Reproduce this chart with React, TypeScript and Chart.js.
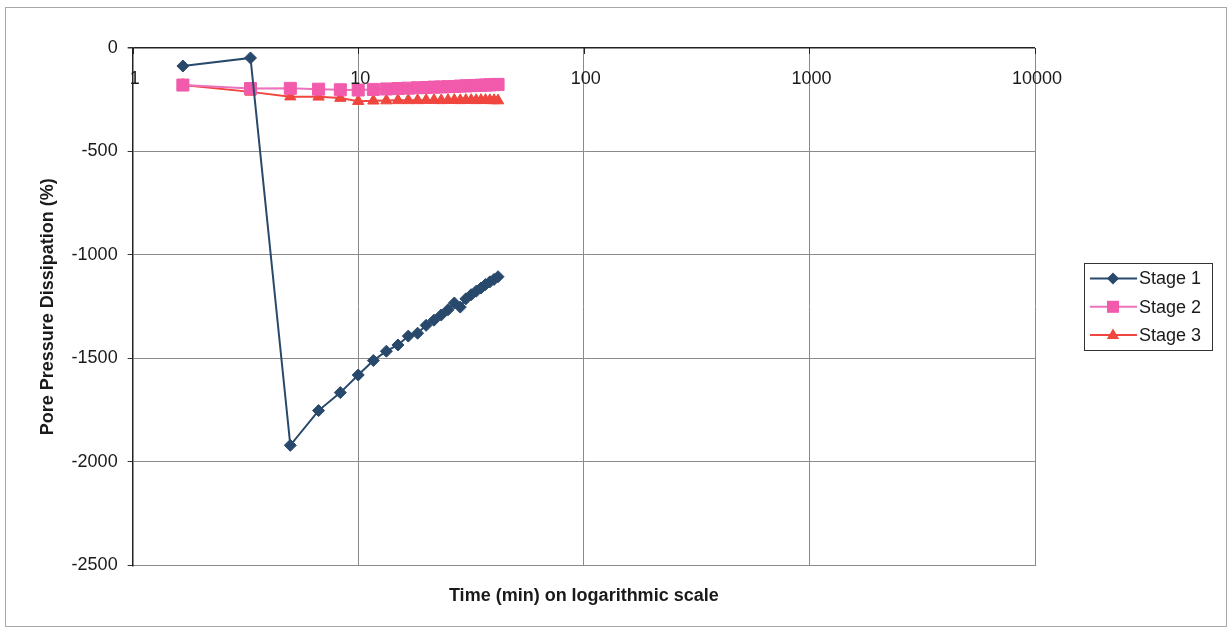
import React, { useEffect, useRef } from 'react';
import { Chart, registerables } from 'chart.js';

Chart.register(...registerables);

// ---- data ----
const times = [1.67, 3.33, 5, 6.67, 8.33, 10, 11.67, 13.33, 15, 16.67, 18.33, 20, 21.67, 23.33, 25, 26.67, 28.33, 30, 31.67, 33.33, 35, 36.67, 38.33, 40, 41.67];
const stage1 = [-87, -48, -1920, -1752, -1665, -1580, -1510, -1465, -1435, -1392, -1378, -1340, -1315, -1290, -1265, -1232, -1252, -1212, -1192, -1175, -1160, -1143, -1130, -1118, -1105];
const stage2 = [-179, -196, -195, -199, -202, -203, -200, -198, -196, -194, -192, -191, -189, -188, -187, -186, -184, -183, -182, -181, -180, -179, -178, -177, -176];
const stage3 = [-179, -212, -235, -236, -242, -257, -255, -254, -253, -253, -253, -252, -252, -253, -252, -252, -253, -252, -252, -253, -252, -252, -253, -253, -254];
const seriesNames = ['Stage 1', 'Stage 2', 'Stage 3'];
const xTickValues = [1, 10, 100, 1000, 10000];
const xTickLabels = ['1', '10', '100', '1000', '10000'];
const yTickValues = [0, -500, -1000, -1500, -2000, -2500];
const yTickLabels = ['0', '-500', '-1000', '-1500', '-2000', '-2500'];
const xTitle = 'Time (min) on logarithmic scale';
const yTitle = 'Pore Pressure Dissipation (%)';

const FONT = '"Liberation Sans", Arial, sans-serif';
const TEXT = '#1a1a1a';
const GRID = '#8a8a8a';

const frame = {
  id: 'frame',
  beforeDraw(chart: any) {
    const { ctx, width, height } = chart;
    ctx.save();
    ctx.fillStyle = '#ffffff';
    ctx.fillRect(0, 0, width, height);
    ctx.strokeStyle = '#a8a8a8';
    ctx.lineWidth = 1;
    ctx.strokeRect(5.5, 7.5, width - 11, height - 16);
    ctx.restore();
  },
};

const topLabels = {
  id: 'topLabels',
  afterDatasetsDraw(chart: any) {
    const { ctx, chartArea, scales } = chart;
    const xs = scales.x;
    ctx.save();
    // small tick marks hanging from the top axis
    ctx.strokeStyle = '#222';
    ctx.lineWidth = 1;
    xTickValues.forEach((v) => {
      const px = Math.round(xs.getPixelForValue(v)) + 0.5;
      ctx.beginPath();
      ctx.moveTo(px, chartArea.top);
      ctx.lineTo(px, chartArea.top + 6);
      ctx.stroke();
    });
    ctx.fillStyle = TEXT;
    ctx.font = `18px ${FONT}`;
    ctx.textAlign = 'center';
    ctx.textBaseline = 'top';
    xTickValues.forEach((v, i) => {
      ctx.fillText(xTickLabels[i], xs.getPixelForValue(v) + 2, chartArea.top + 22);
    });
    ctx.restore();
  },
};

function drawMarker(ctx: CanvasRenderingContext2D, style: string, x: number, y: number, r: number) {
  ctx.beginPath();
  if (style === 'rectRot') {
    ctx.moveTo(x - r, y);
    ctx.lineTo(x, y - r);
    ctx.lineTo(x + r, y);
    ctx.lineTo(x, y + r);
    ctx.closePath();
  } else if (style === 'rect') {
    const s = r * Math.SQRT1_2;
    ctx.rect(x - s, y - s, 2 * s, 2 * s);
  } else {
    ctx.moveTo(x, y - r);
    ctx.lineTo(x + r * 0.95, y + r * 0.6);
    ctx.lineTo(x - r * 0.95, y + r * 0.6);
    ctx.closePath();
  }
  ctx.fill();
}

const customLegend = {
  id: 'customLegend',
  afterDraw(chart: any) {
    const { ctx, chartArea } = chart;
    const left = chartArea.right + 49;
    const top = chartArea.top + 215;
    const w = 128;
    const h = 87;
    ctx.save();
    ctx.strokeStyle = '#333';
    ctx.lineWidth = 1;
    ctx.strokeRect(Math.round(left) + 0.5, Math.round(top) + 0.5, w, h);
    ctx.font = `18px ${FONT}`;
    ctx.textBaseline = 'middle';
    ctx.textAlign = 'left';
    chart.data.datasets.forEach((ds: any, i: number) => {
      const y = top + 15.5 + i * 28.3;
      ctx.strokeStyle = ds.borderColor;
      ctx.lineWidth = 2;
      ctx.beginPath();
      ctx.moveTo(left + 6, y);
      ctx.lineTo(left + 53, y);
      ctx.stroke();
      ctx.fillStyle = ds.pointBackgroundColor;
      drawMarker(ctx, ds.pointStyle, left + 29, y, ds.pointRadius);
      ctx.fillStyle = TEXT;
      ctx.fillText(seriesNames[i], left + 55, y + 1);
    });
    ctx.restore();
  },
};

export default function App() {
  const ref = useRef<HTMLCanvasElement | null>(null);

  useEffect(() => {
    if (!ref.current) return;
    const toPts = (vals: number[]) => vals.map((v, i) => ({ x: times[i], y: v }));
    const chart = new Chart(ref.current, {
      type: 'line',
      data: {
        datasets: [
          {
            label: seriesNames[0],
            data: toPts(stage1),
            borderColor: '#28496b',
            backgroundColor: '#28496b',
            pointBackgroundColor: '#28496b',
            pointBorderColor: '#28496b',
            pointStyle: 'rectRot',
            pointRadius: 6,
            pointBorderWidth: 1,
            borderWidth: 2,
          },
          {
            label: seriesNames[1],
            data: toPts(stage2),
            borderColor: '#ec72bb',
            backgroundColor: '#f25aac',
            pointBackgroundColor: '#f25aac',
            pointBorderColor: '#f25aac',
            pointStyle: 'rect',
            pointRadius: 8.5,
            pointBorderWidth: 1,
            borderWidth: 2,
          },
          {
            label: seriesNames[2],
            data: toPts(stage3),
            borderColor: '#f0463f',
            backgroundColor: '#f0463f',
            pointBackgroundColor: '#f0463f',
            pointBorderColor: '#f0463f',
            pointStyle: 'triangle',
            pointRadius: 6.5,
            pointBorderWidth: 1,
            borderWidth: 2,
          },
        ] as any,
      },
      options: {
        animation: false,
        responsive: false,
        devicePixelRatio: 1,
        layout: { padding: { left: 0, right: 197, top: 48, bottom: 24 } },
        plugins: {
          legend: { display: false },
          tooltip: { enabled: false },
        },
        scales: {
          x: {
            type: 'logarithmic',
            position: 'bottom',
            min: 1,
            max: 10000,
            afterBuildTicks: (axis: any) => {
              axis.ticks = xTickValues.map((v) => ({ value: v }));
            },
            ticks: { display: false },
            grid: {
              drawTicks: false,
              color: (c: any) => (c.tick && c.tick.value === 1 ? '#222' : GRID),
              lineWidth: 1,
            },
            border: { display: true, color: GRID, width: 1 },
            title: {
              display: true,
              text: xTitle,
              color: TEXT,
              font: { family: FONT, size: 18, weight: 'bold' },
              padding: { top: 20, bottom: 4 },
            },
          },
          y: {
            type: 'linear',
            min: -2500,
            max: 0,
            afterBuildTicks: (axis: any) => {
              axis.ticks = yTickValues.map((v) => ({ value: v }));
            },
            ticks: {
              color: TEXT,
              font: { family: FONT, size: 18 },
              padding: 10,
              callback: (v: any) => {
                const i = yTickValues.indexOf(Number(v));
                return i >= 0 ? yTickLabels[i] : '';
              },
            },
            grid: {
              color: (c: any) => (c.tick && c.tick.value === 0 ? '#222' : GRID),
              lineWidth: (c: any) => (c.tick && c.tick.value === 0 ? 1.5 : 1),
              tickLength: 5,
              tickColor: '#333',
            },
            border: { display: true, color: '#222', width: 1.5 },
            title: {
              display: true,
              text: yTitle,
              color: TEXT,
              font: { family: FONT, size: 18, weight: 'bold' },
              padding: { top: 37, bottom: 3 },
            },
          },
        },
      } as any,
      plugins: [frame, topLabels, customLegend],
    });
    return () => chart.destroy();
  }, []);

  return (
    <div style={{ position: 'absolute', left: 0, top: 0, width: 1232, height: 635, background: '#fff' }}>
      <canvas ref={ref} width={1232} height={635} style={{ display: 'block', width: 1232, height: 635 }} />
    </div>
  );
}
